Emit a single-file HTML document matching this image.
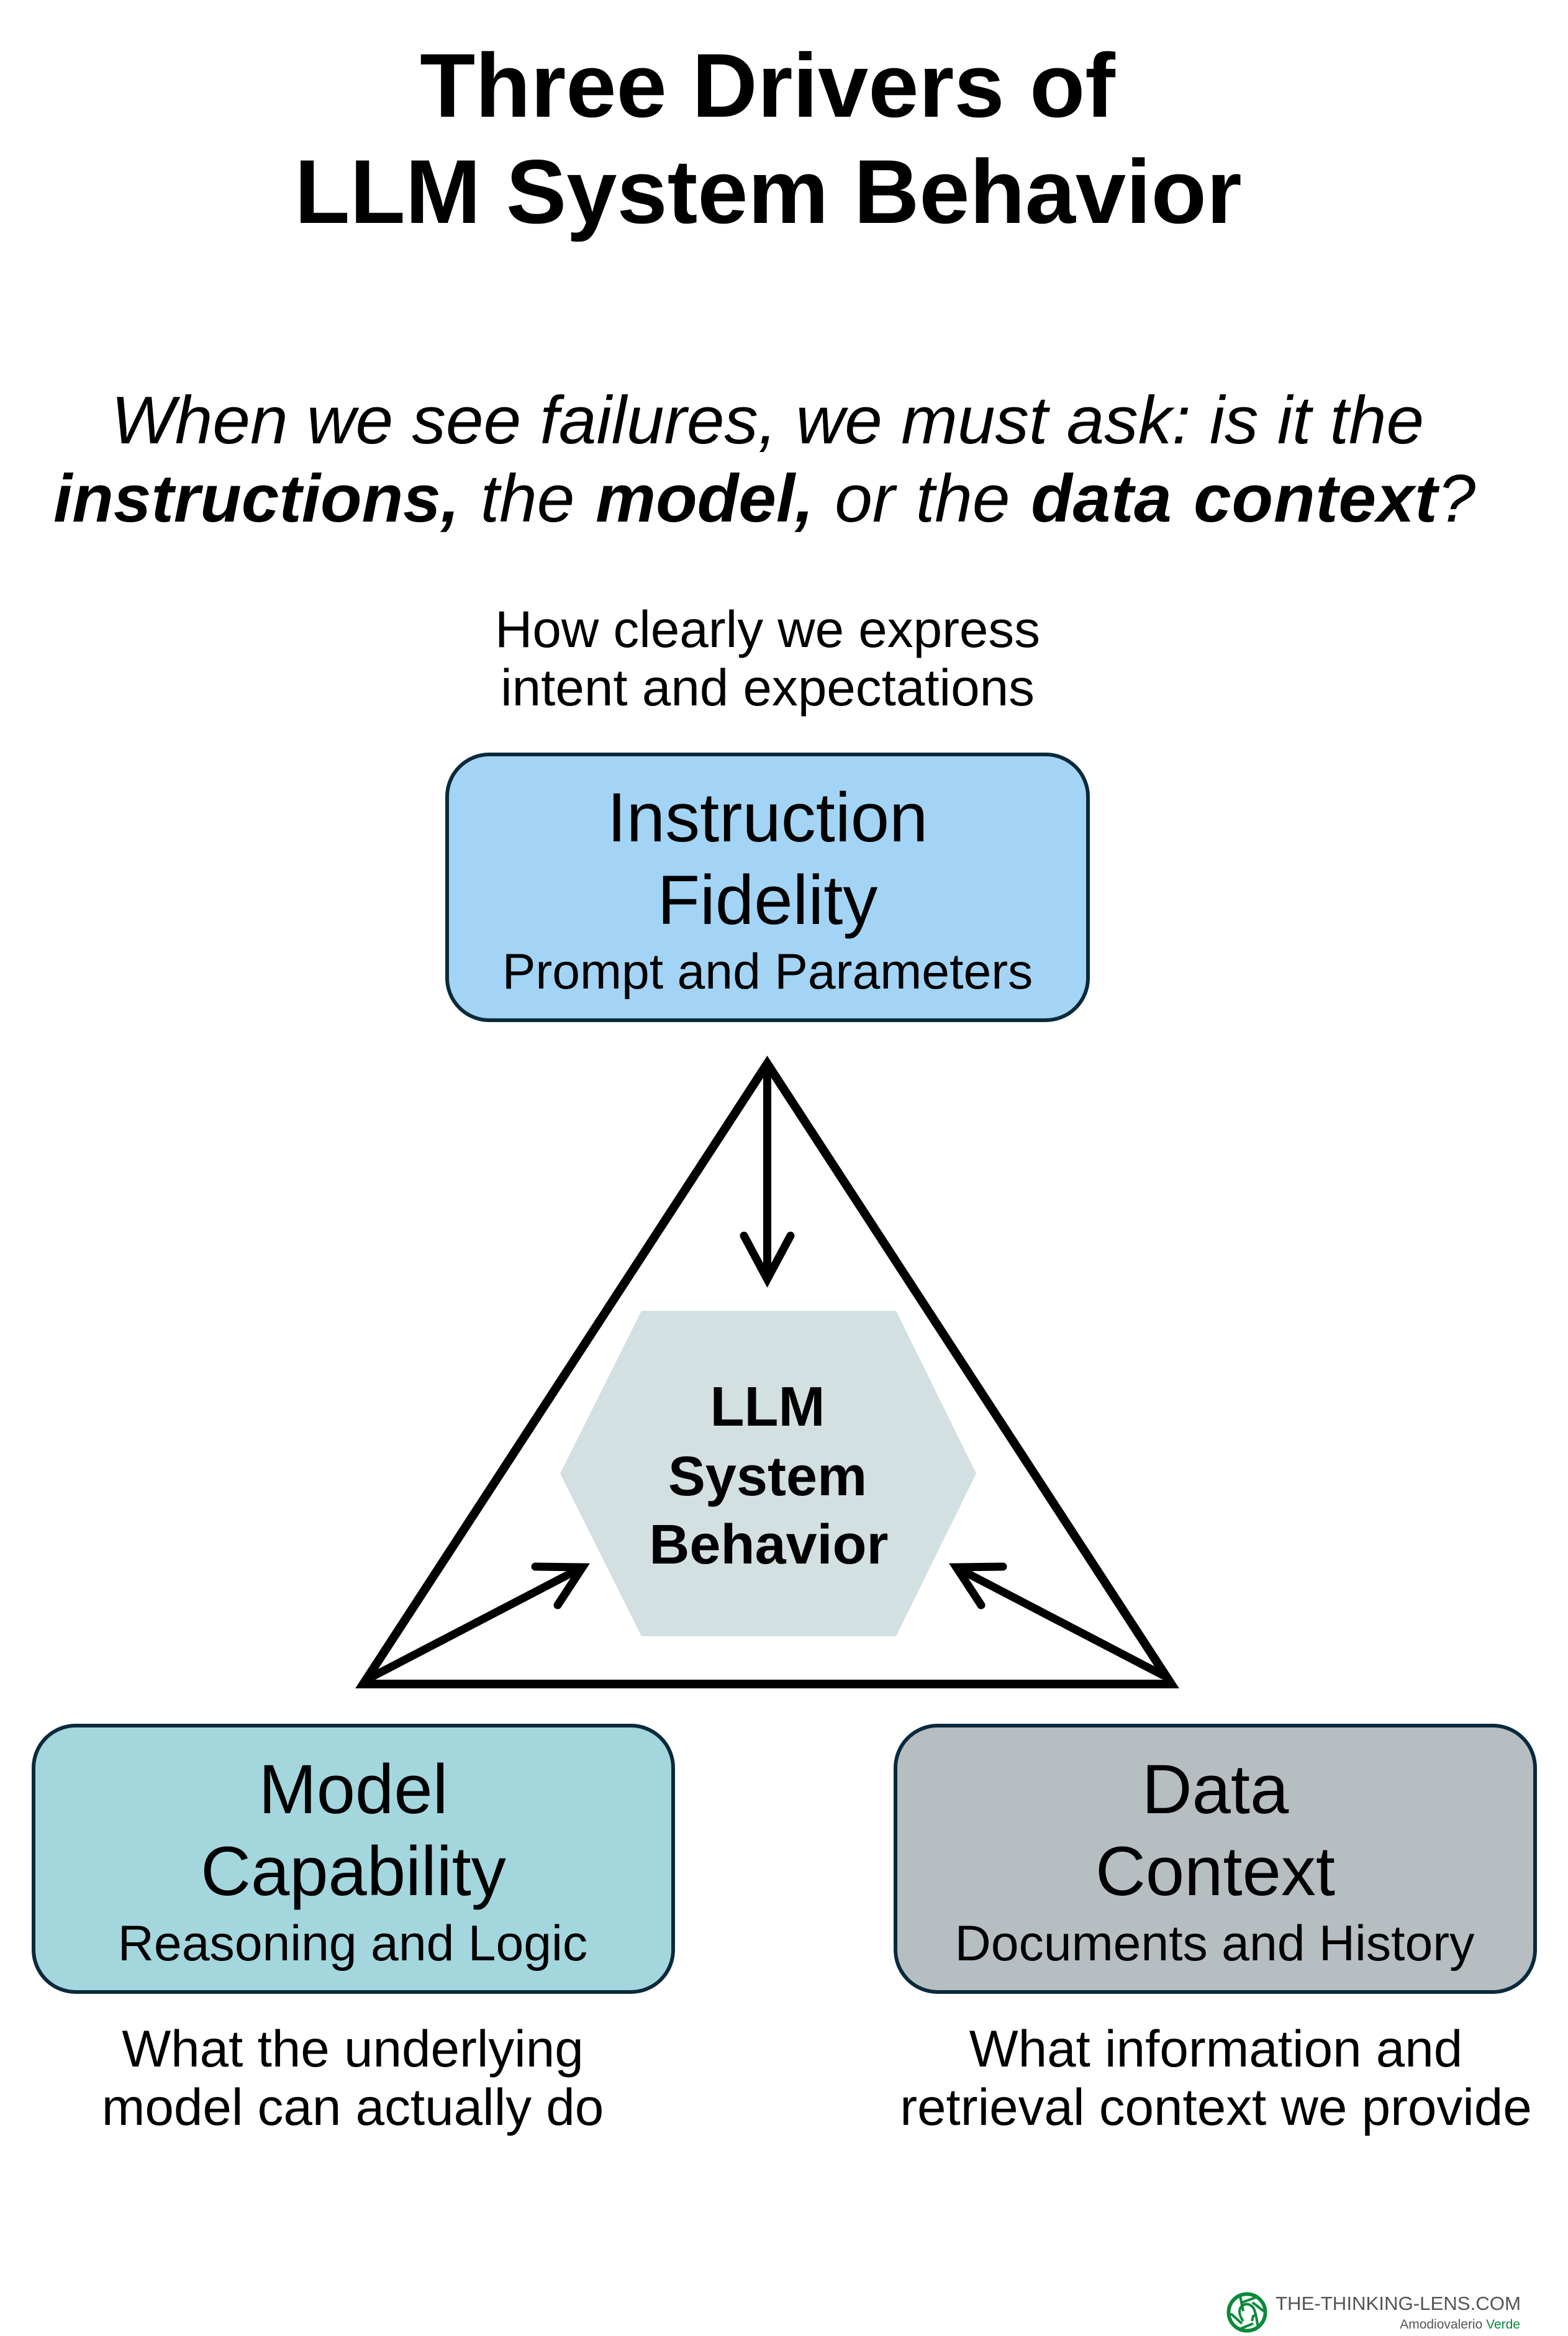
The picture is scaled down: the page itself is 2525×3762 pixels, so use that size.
<!DOCTYPE html>
<html>
<head>
<meta charset="utf-8">
<style>
html,body{margin:0;padding:0;background:#fff;}
svg{display:block;}
text{font-family:"Liberation Sans",Arial,sans-serif;fill:#000;text-anchor:middle;}
.t{font-size:146px;font-weight:700;}
.s{font-size:109px;font-style:italic;}
.s tspan.b{font-weight:700;}
.c{font-size:83.6px;}
.h{font-size:112px;}
.u{font-size:80.5px;}
.x{font-size:90px;font-weight:700;}
</style>
</head>
<body>
<svg width="2525" height="3762" viewBox="0 0 2525 3762" xmlns="http://www.w3.org/2000/svg">
<rect width="2525" height="3762" fill="#fff"/>

<text class="t" x="1236" y="188">Three Drivers of</text>
<text class="t" x="1237" y="359">LLM System Behavior</text>

<text class="s" x="1236" y="714">When we see failures, we must ask: is it the</text>
<text class="s" x="1231" y="840" style="word-spacing:3.5px"><tspan class="b">instructions,</tspan> the <tspan class="b">model,</tspan> or the <tspan class="b" style="letter-spacing:0.8px">data context</tspan>?</text>

<text class="c" x="1236" y="1042">How clearly we express</text>
<text class="c" x="1236" y="1136">intent and expectations</text>

<rect x="720" y="1215" width="1032" height="428" rx="68" ry="68" fill="#a3d4f5" stroke="#0a2a3c" stroke-width="6"/>
<text class="h" x="1236" y="1355">Instruction</text>
<text class="h" x="1236" y="1488">Fidelity</text>
<text class="u" x="1236" y="1592">Prompt and Parameters</text>

<polygon points="902,2373 1033,2111 1443,2111 1572,2373 1443,2635 1033,2635" fill="#d3e0e2"/>
<text class="x" x="1236" y="2296">LLM</text>
<text class="x" x="1236" y="2408">System</text>
<text class="x" x="1238" y="2518">Behavior</text>

<path d="M1235.5,1713 L1886,2712 L585,2712 Z" fill="none" stroke="#000" stroke-width="14" stroke-linejoin="miter"/>

<g fill="none" stroke="#000" stroke-linecap="round" stroke-linejoin="miter" stroke-width="13">
<path d="M1235.5,1715 L1235.5,2054"/>
<path d="M1198,1990 L1235.5,2060 L1273,1990"/>
<path d="M596,2702 L934,2526"/>
<path d="M862,2523 L938,2524 L898,2585"/>
<path d="M1873,2698 L1543,2526"/>
<path d="M1615,2523 L1540,2524 L1580,2585"/>
</g>

<rect x="54" y="2779" width="1030" height="429" rx="68" ry="68" fill="#a4d6de" stroke="#0a2a3c" stroke-width="6"/>
<text class="h" x="569" y="2920">Model</text>
<text class="h" x="569" y="3052">Capability</text>
<text class="u" x="568" y="3157">Reasoning and Logic</text>
<text class="c" x="568" y="3328">What the underlying</text>
<text class="c" x="568" y="3422">model can actually do</text>

<rect x="1442" y="2779" width="1030" height="429" rx="68" ry="68" fill="#b6bec1" stroke="#0a2a3c" stroke-width="6"/>
<text class="h" x="1957" y="2920">Data</text>
<text class="h" x="1957" y="3052">Context</text>
<text class="u" x="1956" y="3157">Documents and History</text>
<text class="c" x="1958" y="3328">What information and</text>
<text class="c" x="1958" y="3422">retrieval context we provide</text>

<g fill="none" stroke="#0a8a3a">
<circle cx="2008" cy="3724" r="29.5" stroke-width="6"/>
<path d="M1997,3698 L2002,3722 M2022,3700 L2000,3708 M2035,3722 L2017,3708 M2026,3748 L2022,3726 M1998,3750 L2018,3742 M1982,3726 L2000,3742" stroke-width="4"/>
<path d="M2002,3738 C1990,3722 1998,3709 2010,3711 C2019,3713 2021,3722 2022,3728 L2018,3730 L2016,3738" stroke-width="4"/>
</g>
<text x="2054" y="3720" style="font-size:31px;fill:#555;text-anchor:start" textLength="395" lengthAdjust="spacingAndGlyphs">THE-THINKING-LENS.COM</text>
<text x="2448" y="3750" style="font-size:21px;fill:#555;text-anchor:end">Amodiovalerio <tspan style="fill:#0a8a3a">Verde</tspan></text>
</svg>
</body>
</html>
